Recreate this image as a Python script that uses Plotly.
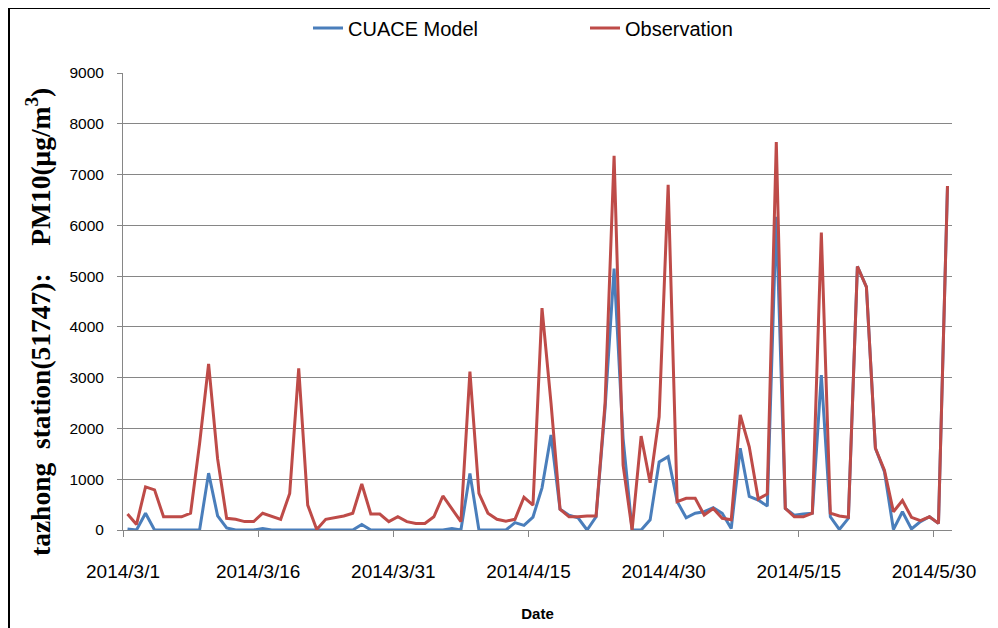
import pandas as pd
import plotly.graph_objects as go

# ---- data ----
start_date = "2014-03-01"
n_days = 92
dates = pd.date_range(start_date, periods=n_days, freq="D")

observation = [
    315, 110, 850, 790, 260, 260, 260, 330, 1700, 3270,
    1400, 230, 210, 165, 165, 330, 275, 210, 720, 3185,
    490, 10, 210, 245, 275, 330, 905, 315, 315, 165,
    260, 165, 130, 130, 260, 670, 425, 165, 3120, 720,
    330, 210, 175, 210, 645, 490, 4370, 2500, 410, 260,
    260, 275, 275, 2500, 7370, 1280, 0, 1850, 930, 2230,
    6800, 560, 625, 625, 295, 425, 230, 200, 2265, 1640,
    610, 710, 7640, 425, 260, 260, 330, 5860, 330, 275,
    250, 5190, 4790, 1610, 1180, 360, 580, 250, 185, 260,
    130, 6775,
]
cuace_model = [
    20, 0, 330, 0, 0, 0, 0, 0, 0, 1120,
    280, 40, 0, 0, 0, 30, 0, 0, 0, 0,
    0, 0, 0, 0, 0, 0, 110, 0, 0, 0,
    0, 0, 0, 0, 0, 0, 30, 0, 1115, 0,
    0, 0, 0, 145, 90, 255, 830, 1870, 410, 290,
    240, 0, 260, 2400, 5150, 1800, 0, 0, 200, 1340,
    1445, 560, 240, 330, 360, 440, 330, 30, 1610, 660,
    590, 470, 6170, 425, 290, 315, 330, 3050, 260, 10,
    230, 5190, 4790, 1610, 1150, 10, 360, 20, 165, 260,
    130, 6775,
]
tick_dates = ["2014-03-01", "2014-03-16", "2014-03-31", "2014-04-15",
              "2014-04-30", "2014-05-15", "2014-05-30"]
tick_labels = ["2014/3/1", "2014/3/16", "2014/3/31", "2014/4/15",
               "2014/4/30", "2014/5/15", "2014/5/30"]

BLUE = "#4A7EBB"
RED = "#BE4B48"
GRID = "#868686"
SANS = "Liberation Sans Narrow, Arial Narrow, Liberation Sans, sans-serif"

fig = go.Figure()
fig.add_trace(go.Scatter(
    x=dates, y=cuace_model, name="CUACE Model", mode="lines",
    line=dict(color=BLUE, width=3),
    xperiod=86400000, xperiodalignment="middle",
))
fig.add_trace(go.Scatter(
    x=dates, y=observation, name="Observation", mode="lines",
    line=dict(color=RED, width=3),
    xperiod=86400000, xperiodalignment="middle",
))

# page shows the figure offset by 8px (body margin); sizes below are in figure pixels
W, H = 990, 620
L, R, T, B = 115, 46, 65, 98
pw, ph = W - L - R, H - T - B

def px_x(p):
    return (p - L) / pw

def px_y(p):
    return (H - B - p) / ph

fig.update_layout(
    width=W, height=H,
    margin=dict(l=L, r=R, t=T, b=B, autoexpand=False),
    paper_bgcolor="white", plot_bgcolor="white",
    showlegend=True,
    legend=dict(
        orientation="h", x=px_x(300), xanchor="left", y=px_y(20), yanchor="middle",
        font=dict(family=SANS, size=20, color="#000000"),
        entrywidth=232, itemwidth=30, bgcolor="rgba(0,0,0,0)",
    ),
    xaxis=dict(
        type="date", range=["2014-03-01", "2014-06-01"],
        tickmode="array", tickvals=tick_dates, ticktext=tick_labels,
        showgrid=False, showline=True, linecolor=GRID, linewidth=1,
        ticks="outside", ticklen=6, tickcolor=GRID, ticklabelstandoff=18,
        tickfont=dict(family=SANS, size=19, color="#000000"),
        title=dict(text="<b>Date</b>", font=dict(family=SANS, size=15, color="#000000"), standoff=27),
        zeroline=False,
    ),
    yaxis=dict(
        range=[0, 9000], dtick=1000,
        showgrid=True, gridcolor=GRID, gridwidth=1,
        showline=True, linecolor=GRID, linewidth=1,
        ticks="outside", ticklen=5, tickcolor=GRID, ticklabelstandoff=10,
        tickfont=dict(family=SANS, size=15.5, color="#000000"),
        zeroline=False,
    ),
)

nb = "\u00a0"
fig.add_annotation(
    text="<b>tazhong" + nb * 2 + "station(51747):" + nb * 4 + "PM10(μg/m<sup>3</sup>)</b>",
    xref="paper", yref="paper", x=px_x(30), y=px_y(314),
    xanchor="center", yanchor="middle", textangle=-90, showarrow=False,
    font=dict(family="Liberation Serif, Times New Roman, serif", size=27.5, color="#000000"),
)

# outer frame of the picture
fig.add_shape(type="rect", xref="paper", yref="paper",
              x0=px_x(1), x1=px_x(988), y0=px_y(660), y1=px_y(0),
              line=dict(color="black", width=2), fillcolor="rgba(0,0,0,0)", layer="above")

fig.write_html("out.html")
